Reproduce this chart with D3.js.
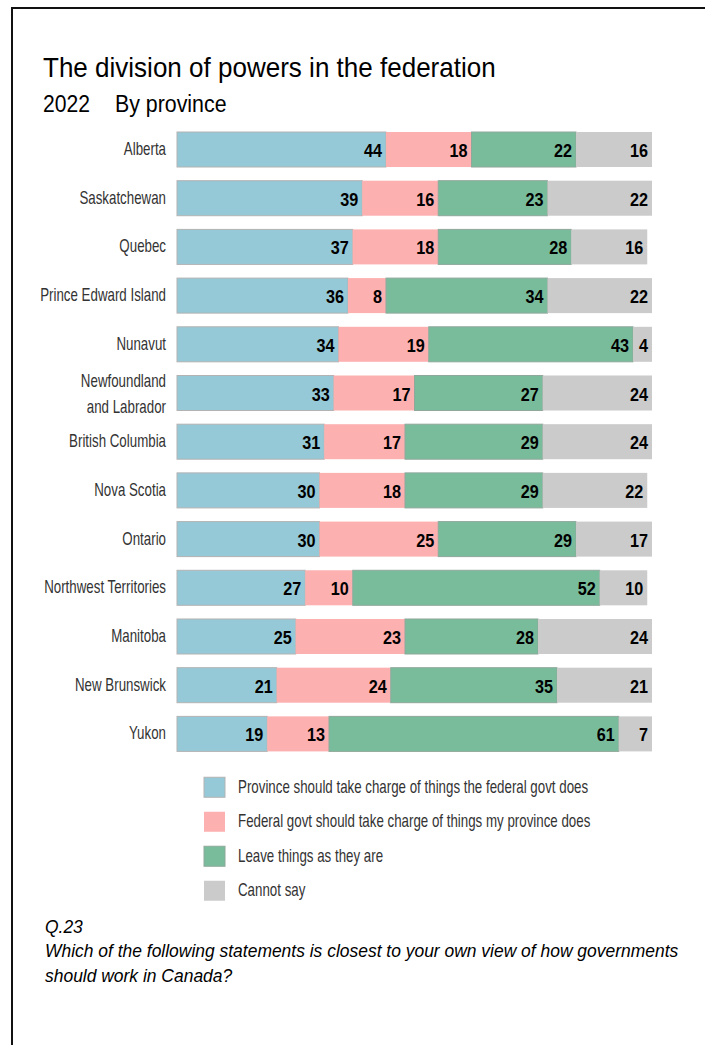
<!DOCTYPE html>
<html>
<head>
<meta charset="utf-8">
<script src="https://cdn.jsdelivr.net/npm/d3@7"></script>
<style>
  html, body { margin: 0; padding: 0; background: #fff; }
  svg { display: block; }
</style>
</head>
<body>
<script>
// ---- data ----
const categories = ["Alberta", "Saskatchewan", "Quebec", "Prince Edward Island", "Nunavut",
  "Newfoundland and Labrador", "British Columbia", "Nova Scotia", "Ontario",
  "Northwest Territories", "Manitoba", "New Brunswick", "Yukon"];
const provinceTakeCharge = [44, 39, 37, 36, 34, 33, 31, 30, 30, 27, 25, 21, 19];
const federalTakeCharge  = [18, 16, 18, 8, 19, 17, 17, 18, 25, 10, 23, 24, 13];
const leaveAsTheyAre     = [22, 23, 28, 34, 43, 27, 29, 29, 29, 52, 28, 35, 61];
const cannotSay          = [16, 22, 16, 22, 4, 24, 24, 22, 17, 10, 24, 21, 7];
const seriesNames = ["Province should take charge of things the federal govt does",
  "Federal govt should take charge of things my province does",
  "Leave things as they are", "Cannot say"];
const seriesColors = ["#96c9d7", "#fdb0b0", "#79bc9c", "#cbcbcb"];
const seriesStroke = ["#b3b3b3", "none", "#8fa89b", "none"];
const title = "The division of powers in the federation";
const subtitleYear = "2022";
const subtitleText = "By province";
const footQ = "Q.23";
const footLines = ["Which of the following statements is closest to your own view of how governments",
  "should work in Canada?"];

const W = 705, H = 1045;
const svg = d3.select("body").append("svg").attr("width", W).attr("height", H);

// frame
svg.append("path").attr("d", `M12,${H + 5} L12,8 L${W + 5},8`)
  .attr("fill", "none").attr("stroke", "#111").attr("stroke-width", 2);

function txt(g, s, x, y, size, sx, opts = {}) {
  return g.append("text")
    .attr("transform", `translate(${x},${y}) scale(${sx},1)`)
    .attr("font-family", opts.family || "'Liberation Sans', Arial, sans-serif")
    .attr("font-size", size)
    .attr("font-weight", opts.weight || "normal")
    .attr("font-style", opts.style || "normal")
    .attr("text-anchor", opts.anchor || "start")
    .attr("fill", opts.fill || "#000")
    .text(s);
}

// titles
txt(svg, title, 43, 77, 28, 0.93);
txt(svg, subtitleYear, 43, 112, 24, 0.88);
txt(svg, subtitleText, 115, 112, 24, 0.89);

// scales
const x = d3.scaleLinear().domain([0, 100]).range([177, 652]).clamp(true);
const y = d3.scaleBand().domain(categories).range([132, 751.4]).paddingInner(0.281).paddingOuter(0);

const series = [provinceTakeCharge, federalTakeCharge, leaveAsTheyAre, cannotSay];
const rows = categories.map((c, i) => {
  let acc = 0;
  return series.map((s, k) => {
    const seg = { cat: c, k, v: s[i], x0: acc, x1: acc + s[i] };
    acc += s[i];
    return seg;
  });
});
const segs = rows.flat();

const labelFont = "'Liberation Sans', Arial, sans-serif";
const labelSX = 0.74;

// bars
const bars = svg.append("g");
[0, 1, 2, 3].forEach(k => {
  bars.selectAll(null).data(segs.filter(d => d.k === k)).enter().append("rect")
    .attr("x", d => x(d.x0))
    .attr("y", d => y(d.cat))
    .attr("width", d => x(d.x1) - x(d.x0))
    .attr("height", y.bandwidth())
    .attr("fill", seriesColors[k])
    .attr("stroke", seriesStroke[k])
    .attr("stroke-width", 1);
});

// value labels
segs.forEach(d => {
  txt(svg, d.v, x(d.x1) - 4, y(d.cat) + y.bandwidth() / 2 + 7.5, 18, 0.9,
    { weight: "bold", anchor: "end" });
});

// category labels
categories.forEach(c => {
  const cy = y(c) + y.bandwidth() / 2;
  const parts = c.includes(" and ") ? [c.split(" and ")[0], "and " + c.split(" and ")[1]] : [c];
  const o = { family: labelFont, anchor: "end", fill: "#333" };
  if (parts.length === 1) {
    txt(svg, c, 166, cy + 5.5, 18, labelSX, o);
  } else {
    txt(svg, parts[0], 166, cy - 6.5, 18, labelSX, o);
    txt(svg, parts[1], 166, cy + 19.5, 18, labelSX, o);
  }
});

// legend
const ly = d3.scaleBand().domain(seriesNames).range([770, 908]).padding(0);
seriesNames.forEach((n, k) => {
  const cy = ly(n) + ly.bandwidth() / 2;
  svg.append("rect").attr("x", 204).attr("y", cy - 10).attr("width", 21).attr("height", 20)
    .attr("fill", seriesColors[k]).attr("stroke", seriesStroke[k]).attr("stroke-width", 1);
  txt(svg, n, 238, cy + 5.5, 18, labelSX, { family: labelFont, fill: "#333" });
});

// footer
txt(svg, footQ, 45, 933, 18, 0.97, { style: "italic" });
footLines.forEach((l, i) => txt(svg, l, 45, 957 + i * 25, 18, 0.97, { style: "italic" }));
</script>
</body>
</html>
